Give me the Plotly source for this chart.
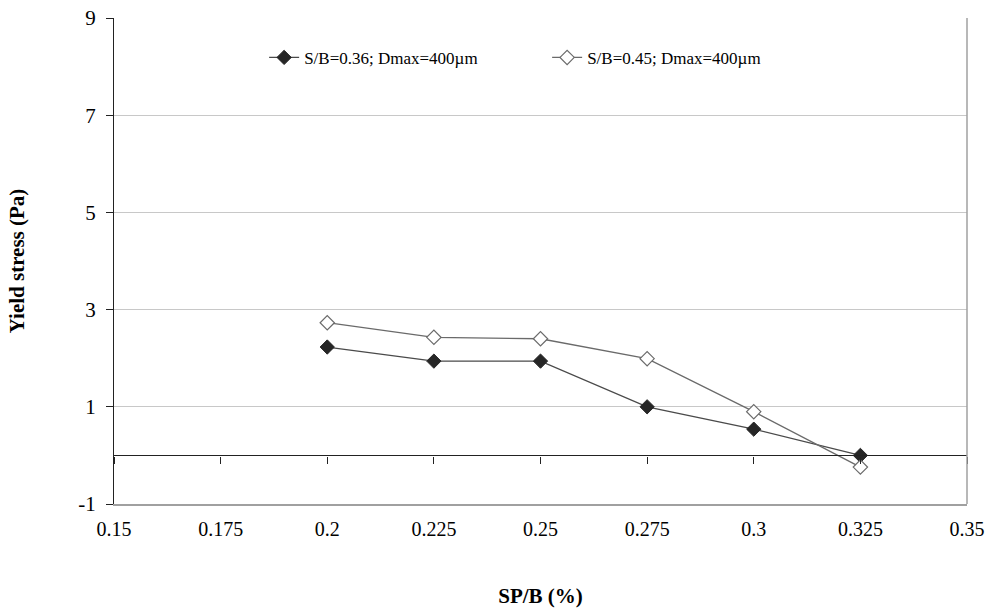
import plotly.graph_objects as go

sp_b = [0.2, 0.225, 0.25, 0.275, 0.3, 0.325]
ys_036 = [2.23, 1.94, 1.94, 1.0, 0.54, 0.0]
ys_045 = [2.73, 2.43, 2.40, 1.99, 0.90, -0.24]
name_036 = "S/B=0.36; Dmax=400µm"
name_045 = "S/B=0.45; Dmax=400µm"
x_ticks = [0.15, 0.175, 0.2, 0.225, 0.25, 0.275, 0.3, 0.325, 0.35]
y_ticks = [-1, 1, 3, 5, 7, 9]
y_ticktext = ["-1", "1", "3", "5", "7", "9"]

FONT = "Liberation Serif"

fig = go.Figure()
fig.add_trace(go.Scatter(
    x=sp_b, y=ys_036, name=name_036, mode="lines+markers",
    line=dict(color="#4a4a4a", width=1.3),
    marker=dict(symbol="diamond", size=11, color="#262626", line=dict(color="#262626", width=1)),
))
fig.add_trace(go.Scatter(
    x=sp_b, y=ys_045, name=name_045, mode="lines+markers",
    line=dict(color="#6a6a6a", width=1.3),
    marker=dict(symbol="diamond", size=11, color="white", line=dict(color="#6a6a6a", width=1.2)),
))
# invisible trace for the x-axis drawn at y=0
fig.add_trace(go.Scatter(x=[0.15, 0.35], y=[0, 0], xaxis="x2", mode="lines",
                         line=dict(width=0), showlegend=False, hoverinfo="skip"))

fig.update_layout(
    width=992, height=610,
    margin=dict(l=114, r=25, t=18, b=106, autoexpand=False),
    paper_bgcolor="white", plot_bgcolor="white",
    font=dict(family=FONT, size=20, color="black"),
    xaxis=dict(
        range=[0.15, 0.35], tickvals=x_ticks, ticktext=[str(v) for v in x_ticks],
        showgrid=False, zeroline=False, showline=True, linecolor="#a0a0a0", linewidth=1.5,
        mirror=False, ticks="outside", ticklen=6, tickcolor="rgba(0,0,0,0)",
        tickfont=dict(size=20), automargin=False,
        title=dict(text="<b>SP/B (%)</b>", font=dict(size=21), standoff=50),
    ),
    xaxis2=dict(
        overlaying="x", anchor="free", position=0.1, side="bottom",
        range=[0.15, 0.35], tickvals=x_ticks, showticklabels=False,
        showgrid=False, zeroline=False, showline=True, linecolor="#222", linewidth=1.3,
        ticks="outside", ticklen=7, tickcolor="#222", tickwidth=1.3, automargin=False,
    ),
    yaxis=dict(
        range=[-1, 9], tickvals=y_ticks, ticktext=y_ticktext,
        showgrid=True, gridcolor="#c8c8c8", gridwidth=1.3,
        zeroline=False, showline=True, linecolor="#222", linewidth=1.3,
        ticks="outside", ticklen=7, tickcolor="#222", tickwidth=1.3, automargin=False,
        ticklabelstandoff=6,
        title=dict(text="<b>Yield stress (Pa)</b>", font=dict(size=21), standoff=47),
        tickfont=dict(size=21),
    ),
    legend=dict(
        orientation="h", x=0.176, y=0.918, xanchor="left", yanchor="middle",
        font=dict(size=17), bgcolor="rgba(0,0,0,0)", itemwidth=30,
        entrywidth=238, entrywidthmode="pixels",
    ),
    shapes=[dict(type="line", xref="paper", yref="paper", x0=1, x1=1, y0=0, y1=1,
                 line=dict(color="#a0a0a0", width=1.5))],
)

fig.write_html("out.html")
